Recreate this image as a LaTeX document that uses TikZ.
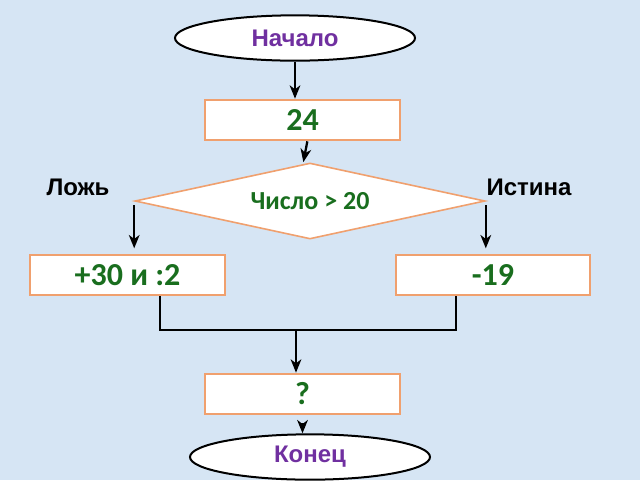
\documentclass[tikz,border=0pt]{standalone}
\usepackage{fontspec}
\setmainfont{Liberation Sans}
\newfontfamily\calib{Carlito}
\usetikzlibrary{shapes.geometric,arrows.meta}
\definecolor{bgblue}{RGB}{214,229,244}
\definecolor{boxorange}{RGB}{240,160,110}
\definecolor{txtgreen}{RGB}{25,110,30}
\definecolor{txtpurple}{RGB}{112,48,160}
\tikzset{
  term/.style={ellipse,draw=black,line width=1.5pt,fill=white,minimum width=180pt,minimum height=34pt,inner sep=0pt,font=\bfseries\fontsize{18}{20}\selectfont,text=txtpurple},
  procbox/.style={rectangle,draw=boxorange,line width=1.5pt,fill=white,minimum width=146pt,minimum height=30.5pt,inner sep=0pt,font=\calib\bfseries\fontsize{24}{26}\selectfont,text=txtgreen},
  decide/.style={diamond,draw=boxorange,line width=1.2pt,fill=white,shape aspect=4.6,minimum width=262.5pt,minimum height=57pt,inner sep=0pt,font=\calib\bfseries\fontsize{19.5}{21}\selectfont,text=txtgreen},
  lbl/.style={font=\bfseries\fontsize{18}{20}\selectfont,text=black},
  arr/.style={draw=black,line width=1.7pt,-{Stealth[length=10pt,width=8pt,inset=3pt]}},
  ln/.style={draw=black,line width=1.7pt}
}
\begin{document}
\begin{tikzpicture}[x=0.75pt,y=-0.75pt]
\fill[bgblue] (0,0) rectangle (640,480);
\useasboundingbox (0,0) rectangle (640,480);
\node[term] (start) at (295,38) {Начало};
\node[procbox] (b24) at (302.5,120) {24};
\node[decide] (dec) at (310,201) {Число > 20};
\node[lbl] (lfalse) at (78,187) {Ложь};
\node[lbl] (ltrue) at (529,187) {Истина};
\node[procbox] (lbox) at (127.5,275) {+30 и :2};
\node[procbox] (rbox) at (493,275) {-19};
\node[procbox] (qbox) at (302.5,394) {?};
\node[term] (stop) at (310,457) {Конец};
\coordinate (jl) at (160,330);
\coordinate (jr) at (456,330);
\coordinate (jm) at (296,330);
\draw[arr] (start.south) -- (start.south |- b24.north);
\draw[arr] ([xshift=-2pt]dec.north |- b24.south) -- ([xshift=-5pt]dec.north);
\draw[arr] ([yshift=-3pt]dec.west) -- ([yshift=4pt]dec.west |- lbox.north);
\draw[arr] ([yshift=-3pt]dec.east) -- ([yshift=4pt]dec.east |- rbox.north);
\draw[ln] (jl |- lbox.south) -- (jl) -- (jr) -- (jr |- rbox.south);
\draw[arr] (jm) -- (jm |- qbox.north);
\draw[arr] ([yshift=-6pt]qbox.south) -- (qbox.south |- stop.north);
\end{tikzpicture}
\end{document}
